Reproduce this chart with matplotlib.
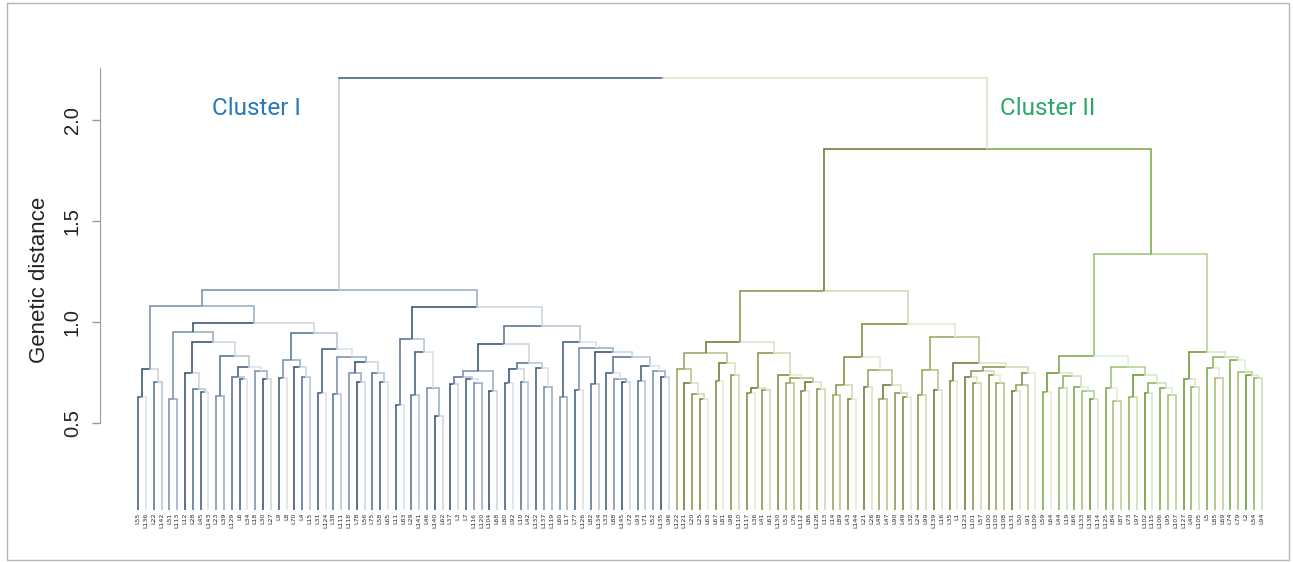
import numpy as np
import matplotlib
matplotlib.use('Agg')
import matplotlib.pyplot as plt
from matplotlib.patches import Rectangle

# leaf labels in dendrogram order (145 genotypes)
cluster1_labels = ['L55', 'L136', 'L22', 'L142', 'L51', 'L113', 'L12', 'L28', 'L45', 'L143',
                   'L23', 'L39', 'L129', 'L6', 'L34', 'L18', 'L30', 'L27', 'L9', 'L8',
                   'L70', 'L4', 'L15', 'L31', 'L124', 'L38', 'L111', 'L118', 'L78', 'L56',
                   'L75', 'L58', 'L65', 'L11', 'L83', 'L29', 'L141', 'L46', 'L140', 'L62',
                   'L37', 'L3', 'L7', 'L116', 'L120', 'L104', 'L68', 'L80', 'L92', 'L10',
                   'L42', 'L132', 'L137', 'L119', 'L60', 'L17', 'L77', 'L126', 'L82', 'L134',
                   'L33', 'L88', 'L145', 'L72', 'L93', 'L71', 'L52', 'L135', 'L96']
cluster2_labels = ['L122', 'L121', 'L20', 'L25', 'L63', 'L67', 'L81', 'L98', 'L110', 'L117',
                   'L36', 'L41', 'L61', 'L130', 'L53', 'L76', 'L112', 'L86', 'L128', 'L13',
                   'L14', 'L89', 'L43', 'L144', 'L21', 'L26', 'L48', 'L47', 'L90', 'L49',
                   'L32', 'L24', 'L99', 'L139', 'L16', 'L35', 'L1', 'L123', 'L101', 'L57',
                   'L100', 'L103', 'L108', 'L131', 'L50', 'L91', 'L109', 'L59', 'L64', 'L44',
                   'L19', 'L66', 'L133', 'L138', 'L114', 'L125', 'L84', 'L87', 'L73', 'L97',
                   'L102', 'L115', 'L106', 'L95', 'L107', 'L127', 'L40', 'L105', 'L5', 'L85',
                   'L69', 'L74', 'L79', 'L2', 'L54', 'L94']

# height at which each pair of neighbouring leaves is joined (defines the tree)
merge_heights = [0.627, 0.766, 0.704, 1.079, 0.617, 0.952, 0.746, 0.668, 0.655, 0.903,
                 0.634, 0.832, 0.729, 0.716, 0.776, 0.759, 0.716, 0.993, 0.721, 0.812,
                 0.776, 0.729, 0.944, 0.647, 0.865, 0.644, 0.825, 0.746, 0.704, 0.800,
                 0.746, 0.704, 1.158, 0.589, 0.914, 0.639, 0.853, 0.672, 0.535, 1.075,
                 0.693, 0.729, 0.720, 0.700, 0.760, 0.660, 0.891, 0.700, 0.770, 0.705,
                 0.796, 0.771, 0.680, 0.980, 0.627, 0.903, 0.663, 0.870, 0.693, 0.853,
                 0.748, 0.720, 0.705, 0.829, 0.710, 0.782, 0.760, 0.730, 2.208,
                 0.766, 0.697, 0.644, 0.617, 0.848, 0.708, 0.796, 0.738, 0.903, 0.650,
                 0.675, 0.665, 0.848, 0.738, 0.700, 0.721, 0.660, 0.705, 0.670, 1.153,
                 0.640, 0.688, 0.617, 0.829, 0.680, 0.762, 0.617, 0.688, 0.650, 0.630,
                 0.990, 0.639, 0.762, 0.663, 0.924, 0.710, 0.796, 0.730, 0.700, 0.760,
                 0.740, 0.700, 0.780, 0.660, 0.690, 0.750, 1.856, 0.655, 0.749, 0.672,
                 0.733, 0.680, 0.660, 0.620, 0.832, 0.672, 0.610, 0.779, 0.630, 0.738,
                 0.650, 0.697, 0.672, 0.640, 1.337, 0.716, 0.680, 0.853, 0.771, 0.721,
                 0.829, 0.810, 0.754, 0.740, 0.721]

labels = cluster1_labels + cluster2_labels
n = len(labels)
group_starts = [0, 69, 116]

shades = [
    ['#4a6688', '#b9c7d7', '#7e95b0', '#dbe3ec', '#3d5878', '#9fb1c6', '#5f7a9b', '#cdd7e3'],
    ['#7f9148', '#d3d9b6', '#9aa863', '#e6e9d6', '#6e823c', '#bcc58f', '#8c9c55', '#dfe3c8'],
    ['#82ad4e', '#cfe0bb', '#a2c27b', '#e4eed9', '#6e9b3b', '#b9d39b', '#92b862', '#d9e7c9'],
]
# vertical / horizontal colours of the two branches hanging from the top link
top_colors = [('#c6d0dd', '#4a6688'), ('#dfe3c8', '#dfe3c8')]
counters = [0, 0, 0]

fig = plt.figure(figsize=(12.93, 5.62), dpi=100)
ax = fig.add_axes([100 / 1293, 1 - 510 / 562, 1180 / 1293, 442 / 562])


def group_of(i):
    g = 0
    for k, s in enumerate(group_starts):
        if i >= s:
            g = k
    return g


def next_color(g):
    c = shades[g][(counters[g] * 3) % len(shades[g])]
    counters[g] += 1
    return c, c


def branch(cx, cy, px, py, colors):
    vcol, hcol = colors
    ax.plot([cx, cx], [cy, py], color=vcol, lw=1.2, solid_capstyle='butt')
    ax.plot([cx, px], [py, py], color=hcol, lw=1.2, solid_capstyle='projecting')


def build(lo, hi, top=False):
    # returns x position and height of the subtree holding leaves lo..hi
    if lo == hi:
        return float(lo), 0.0
    k = lo + int(np.argmax(merge_heights[lo:hi]))
    lx, ly = build(lo, k)
    rx, ry = build(k + 1, hi)
    x = (lx + rx) / 2
    y = merge_heights[k]
    if top:
        lc, rc = top_colors
    else:
        lc, rc = next_color(group_of(lo)), next_color(group_of(k + 1))
    branch(lx, ly, x, y, lc)
    branch(rx, ry, x, y, rc)
    return x, y


build(0, n - 1, top=True)

ax.set_xlim(-4.91, 146.37)
ax.set_ylim(0.07, 2.257)
for s in ['top', 'right', 'bottom']:
    ax.spines[s].set_visible(False)
ax.spines['left'].set_bounds(0.5, 2.257)
ax.spines['left'].set_color('#9a9a9a')

ax.set_xticks(range(n))
ax.set_xticklabels(labels, rotation=90, fontsize=4.5, color='#2a2a2a')
ax.tick_params(axis='x', length=0, pad=2)

ax.set_yticks([0.5, 1.0, 1.5, 2.0])
ax.set_yticklabels(['0.5', '1.0', '1.5', '2.0'], rotation=90, va='center',
                   fontsize=14.5, family='Liberation Sans', color='#222222')
ax.tick_params(axis='y', length=6, width=1, color='#9a9a9a', pad=7)
ax.set_ylabel('Genetic distance', fontsize=16, family='Liberation Sans', color='#222222')
ax.yaxis.set_label_coords(-0.042, 0.52)

ax.text(15.2, 2.055, 'Cluster I', fontsize=17.5, family='Roboto', color='#2a78b8',
        ha='center', va='center')
ax.text(116.6, 2.055, 'Cluster II', fontsize=17.5, family='Roboto', color='#2aa86a',
        ha='center', va='center')

fig.patches.append(Rectangle((7 / 1293, 0.003), 1282 / 1293, 0.992, transform=fig.transFigure,
                             fill=False, edgecolor='#b5b5b5', lw=1))

fig.savefig('out.png', dpi=100)
